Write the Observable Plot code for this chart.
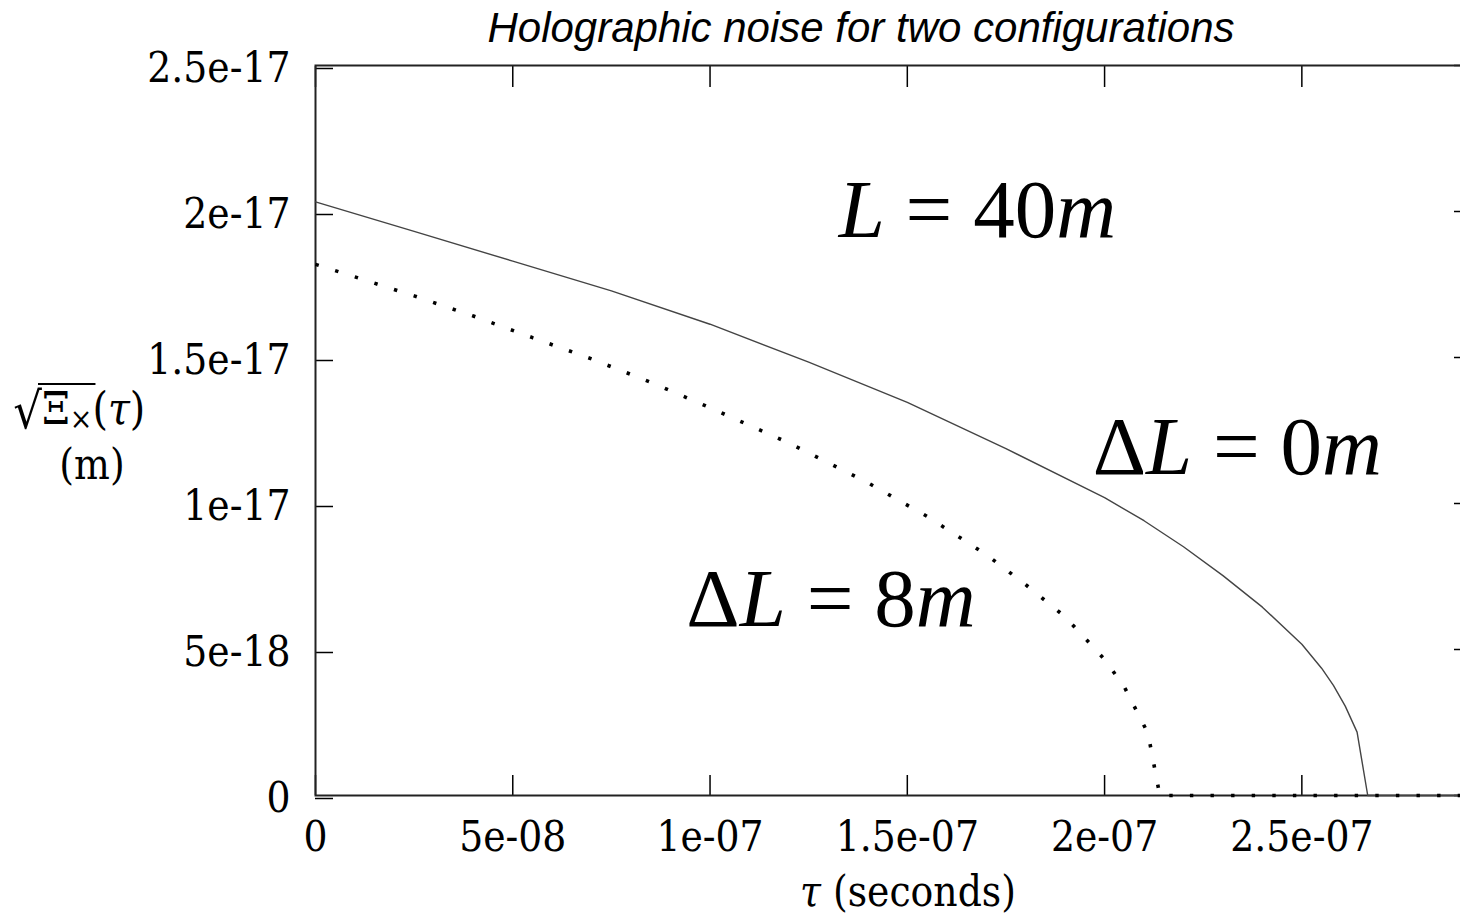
<!DOCTYPE html>
<html><head><meta charset="utf-8">
<script src="https://cdn.jsdelivr.net/npm/d3@7"></script>
<script src="https://cdn.jsdelivr.net/npm/@observablehq/plot@0.6"></script>
<style>
html,body{margin:0;padding:0;background:#fff;overflow:hidden;width:1460px;height:917px;}
#title{height:56px;line-height:56px;font-family:"Liberation Sans",Arial,sans-serif;font-style:italic;font-size:42px;white-space:nowrap;padding-left:262px;width:1198px;text-align:center;color:#000;}
#chart{width:1474px;overflow:visible;}
#chart svg{display:block;max-width:none !important;}
</style></head><body>
<div id="title">Holographic noise for two configurations</div>
<div id="chart"></div>
<script>
// ΔL = 0m curve (solid)
const tauSolid = [0, 2.5e-8, 5e-8, 7.5e-8, 1e-7, 1.25e-7, 1.5e-7, 1.75e-7, 2e-7, 2.1e-7, 2.2e-7, 2.3e-7, 2.4e-7, 2.5e-7, 2.55e-7, 2.58e-7, 2.61e-7, 2.64e-7, 2.667e-7, 2.93e-7];
const xiSolid = [2.033e-17, 1.932e-17, 1.830e-17, 1.728e-17, 1.614e-17, 1.484e-17, 1.346e-17, 1.188e-17, 1.020e-17, 0.941e-17, 0.852e-17, 0.753e-17, 0.645e-17, 0.518e-17, 0.436e-17, 0.377e-17, 0.306e-17, 0.217e-17, 0, 0];
// ΔL = 8m curve (dotted)
const tauDotted = [0, 1e-8, 2.5e-8, 4e-8, 5.5e-8, 7e-8, 8.5e-8, 1e-7, 1.2e-7, 1.4e-7, 1.55e-7, 1.7e-7, 1.8e-7, 1.9e-7, 2.0e-7, 2.05e-7, 2.11e-7, 2.14e-7, 2.93e-7];
const xiDotted = [1.819e-17, 1.776e-17, 1.711e-17, 1.642e-17, 1.568e-17, 1.495e-17, 1.415e-17, 1.328e-17, 1.207e-17, 1.071e-17, 0.956e-17, 0.825e-17, 0.722e-17, 0.612e-17, 0.466e-17, 0.372e-17, 0.213e-17, 0, 0];

const xTicks = [0, 5e-8, 1e-7, 1.5e-7, 2e-7, 2.5e-7];
const xTickLabels = ["0", "5e-08", "1e-07", "1.5e-07", "2e-07", "2.5e-07"];
const yTicks = [0, 5e-18, 1e-17, 1.5e-17, 2e-17, 2.5e-17];
const yTickLabels = ["0", "5e-18", "1e-17", "1.5e-17", "2e-17", "2.5e-17"];

const annotText = ["L = 40m", "ΔL = 0m", "ΔL = 8m"];
const annotTau = [1.326e-7, 1.970e-7, 0.940e-7];
const annotXi = [1.914e-17, 1.100e-17, 0.582e-17];

const solid = tauSolid.map((t, i) => ({tau: t, xi: xiSolid[i]}));
const dotted = tauDotted.map((t, i) => ({tau: t, xi: xiDotted[i]}));
const annots = annotText.map((s, i) => ({label: s, tau: annotTau[i], xi: annotXi[i]}));

const tickFont = '"DejaVu Serif Condensed","DejaVu Serif",serif';

const svg = Plot.plot({
  width: 1474, height: 861,
  marginLeft: 315, marginRight: 3, marginTop: 9, marginBottom: 122,
  x: {domain: [0, 2.93e-7]},
  y: {domain: [0, 2.5e-17]},
  style: {fontFamily: tickFont, fontSize: "42px", fontStretch: "condensed", color: "#000", background: "#fff", overflow: "visible", maxWidth: "none"},
  marks: [
    Plot.axisX(xTicks, {anchor: "bottom", tickSize: -20, tickPadding: 46, strokeWidth: 1.5, tickFormat: d => xTickLabels[xTicks.indexOf(d)], label: null, fontSize: 42, fontFamily: tickFont}),
    Plot.axisX(xTicks, {anchor: "top", tickSize: -21, strokeWidth: 1.5, tickFormat: () => "", label: null}),
    Plot.axisY(yTicks, {anchor: "left", tickSize: -18, tickPadding: 43, dy: 3, strokeWidth: 1.5, tickFormat: d => yTickLabels[yTicks.indexOf(d)], label: null, fontSize: 42, fontFamily: tickFont}),
    Plot.axisY(yTicks, {anchor: "right", tickSize: -18, strokeWidth: 1.5, tickFormat: () => "", label: null}),
    Plot.frame({stroke: "#222", strokeWidth: 2}),
    Plot.line(solid, {x: "tau", y: "xi", stroke: "#444", strokeWidth: 1.4}),
    Plot.line(dotted, {x: "tau", y: "xi", stroke: "#000", strokeWidth: 3.6, strokeDasharray: "3.4,17.2", strokeLinecap: "butt", strokeLinejoin: "miter"}),
    Plot.text(annots, {x: "tau", y: "xi", text: "label", textAnchor: "start", lineAnchor: "bottom", fontSize: 83, fontFamily: '"Liberation Serif","Times New Roman",serif', fill: "#000"})
  ]
});
document.getElementById("chart").appendChild(svg);

const root = d3.select(svg);
// italic variables in annotations
root.selectAll("text").filter(function() { return annotText.includes(this.textContent); }).each(function() {
  const s = this.textContent;
  const sel = d3.select(this).style("white-space", "pre").style("font-stretch", "normal");
  sel.text(null);
  const groups = [];
  for (const ch of s) {
    const it = /[Lm]/.test(ch);
    if (groups.length && groups[groups.length - 1].it === it) groups[groups.length - 1].t += ch;
    else groups.push({t: ch, it});
  }
  for (const g of groups) sel.append("tspan").attr("font-style", g.it ? "italic" : "normal").text(g.t);
});

// y axis label (two lines), page coordinates shifted by title height 56
root.append("text").attr("x", 42).attr("y", 372).attr("text-anchor", "end")
  .attr("font-family", tickFont).attr("font-size", 50).style("font-stretch", "normal").attr("fill", "#000").text("√");
const yl = root.append("text").attr("x", 42).attr("y", 368).attr("text-anchor", "start")
  .attr("font-family", tickFont).attr("font-size", 44).style("font-stretch", "normal").attr("fill", "#000");
const xiSpan = yl.append("tspan").text("Ξ");
const subSpan = yl.append("tspan").attr("font-size", 30).attr("dy", 5).text("×");
yl.append("tspan").attr("dy", -5).text("(");
yl.append("tspan").attr("font-style", "italic").text("τ");
yl.append("tspan").text(")");
const b1 = xiSpan.node().getBBox(), b2 = subSpan.node().getBBox();
root.append("line").attr("x1", b1.x - 4).attr("x2", b2.x + b2.width + 3)
  .attr("y1", 328).attr("y2", 328).attr("stroke", "#000").attr("stroke-width", 2);
root.append("text").attr("x", 92).attr("y", 423).attr("text-anchor", "middle")
  .attr("font-family", tickFont).attr("font-size", 42).style("font-stretch", "normal").attr("fill", "#000").text("(m)");
// x axis label
const xl = root.append("text").attr("x", 908).attr("y", 850).attr("text-anchor", "middle")
  .attr("font-family", tickFont).attr("font-size", 42).style("font-stretch", "condensed").attr("fill", "#000");
xl.append("tspan").attr("font-style", "italic").text("τ");
xl.append("tspan").text(" (seconds)");
</script>
</body></html>
